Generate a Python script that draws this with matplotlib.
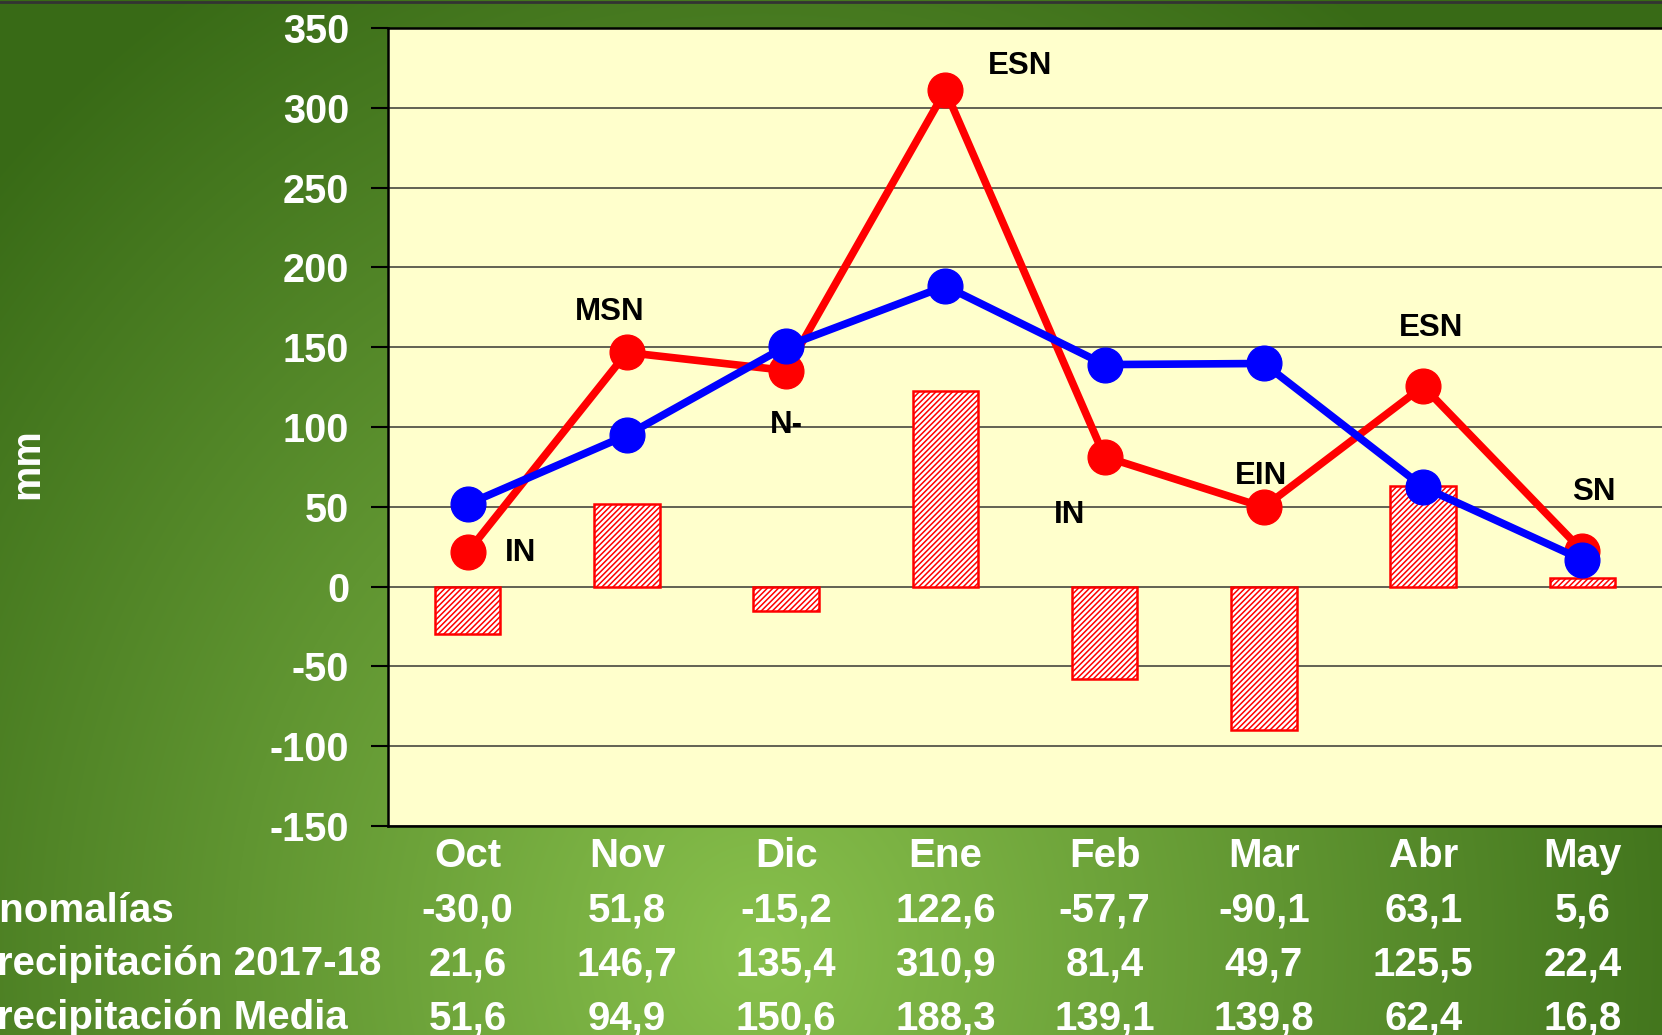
import numpy as np
import matplotlib
matplotlib.use("Agg")
import matplotlib.pyplot as plt
from matplotlib.transforms import blended_transform_factory
from matplotlib.lines import Line2D

plt.rcParams['font.family'] = ['Liberation Sans', 'DejaVu Sans']
plt.rcParams['font.weight'] = 'bold'
plt.rcParams['hatch.linewidth'] = 1.1
plt.rcParams['axes.unicode_minus'] = False

# data
months = ['Oct', 'Nov', 'Dic', 'Ene', 'Feb', 'Mar', 'Abr', 'May']
anomalias = [-30.0, 51.8, -15.2, 122.6, -57.7, -90.1, 63.1, 5.6]
precip_1718 = [21.6, 146.7, 135.4, 310.9, 81.4, 49.7, 125.5, 22.4]
precip_media = [51.6, 94.9, 150.6, 188.3, 139.1, 139.8, 62.4, 16.8]
class_labels = ['IN', 'MSN', 'N-', 'ESN', 'IN', 'EIN', 'ESN', 'SN']
label_pos = [(0.33, 16), (0.89, 167), (2.0, 96), (3.47, 321),
             (3.78, 40), (4.98, 64), (6.05, 157), (7.07, 54)]
row_names = ['Anomalías', 'Precipitación 2017-18', 'Precipitación Media']

W, H = 1662, 1035
fig = plt.figure(figsize=(W / 100, H / 100), dpi=100)

# green gradient background
bg = fig.add_axes([0, 0, 1, 1], zorder=-10)
yy, xx = np.mgrid[0:H, 0:W]
t = np.sqrt(((xx - 760) / 1050.0) ** 2 + ((yy - 950) / 1150.0) ** 2)
t = np.clip(t, 0, 1)
light = np.array([136, 192, 76]) / 255.0
dark = np.array([56, 106, 22]) / 255.0
img = light[None, None, :] * (1 - t[..., None]) + dark[None, None, :] * t[..., None]
bg.imshow(img, extent=[0, 1, 0, 1], aspect='auto', origin='upper')
bg.axis('off')

ax = fig.add_axes([388 / W, 1 - 826 / H, 1 - 388 / W, (826 - 28) / H])
ax.set_facecolor('#FFFFCC')
x = np.arange(len(months))

ax.bar(x, anomalias, width=0.41, color='white', edgecolor='red',
       hatch='//////', linewidth=1.8, zorder=2)
ax.plot(x, precip_1718, color='red', lw=5.5, marker='o', ms=25, zorder=3)
ax.plot(x, precip_media, color='blue', lw=5.5, marker='o', ms=25, zorder=4)

for lab, (lx, ly) in zip(class_labels, label_pos):
    ax.text(lx, ly, lab, ha='center', va='baseline', fontsize=22.5,
            fontweight='bold', color='black', zorder=5)

ax.set_xlim(-0.5, 7.5)
ax.set_ylim(-150, 350)
ax.set_yticks(np.arange(-150, 351, 50))
ax.yaxis.grid(True, color='#55554a', lw=1.3, zorder=1)
ax.set_axisbelow(True)
ax.tick_params(axis='y', length=12, width=1.5, color='black', pad=16,
               labelsize=28.5, labelcolor='white')
ax.set_xticks([])
for lbl in ax.get_yticklabels():
    lbl.set_fontweight('bold')
for s in ['left', 'top', 'bottom']:
    ax.spines[s].set_linewidth(1.8)
    ax.spines[s].set_color('black')
ax.spines['right'].set_visible(False)

fig.text(27 / W, 1 - 464 / H, 'mm', rotation=90, ha='center', va='center',
         fontsize=28.5, fontweight='bold', color='white')

# table under the chart
trans = blended_transform_factory(ax.transData, fig.transFigure)
baselines = [867, 922, 975, 1029]
for i, m in enumerate(months):
    ax.text(x[i], 1 - baselines[0] / H, m, transform=trans, ha='center',
            va='baseline', fontsize=29, fontweight='bold', color='white')
rows = [anomalias, precip_1718, precip_media]
for r, vals in enumerate(rows):
    yb = 1 - baselines[r + 1] / H
    fig.text(-30 / W, yb, row_names[r], ha='left', va='baseline',
             fontsize=29, fontweight='bold', color='white')
    for i, v in enumerate(vals):
        ax.text(x[i], yb, f"{v:.1f}".replace('.', ','), transform=trans,
                ha='center', va='baseline', fontsize=29, fontweight='bold',
                color='white', clip_on=False)

fig.add_artist(Line2D([0, 1], [1 - 1.5 / H, 1 - 1.5 / H], transform=fig.transFigure,
                      color='#333333', lw=2))

fig.savefig('out.png', dpi=100)
